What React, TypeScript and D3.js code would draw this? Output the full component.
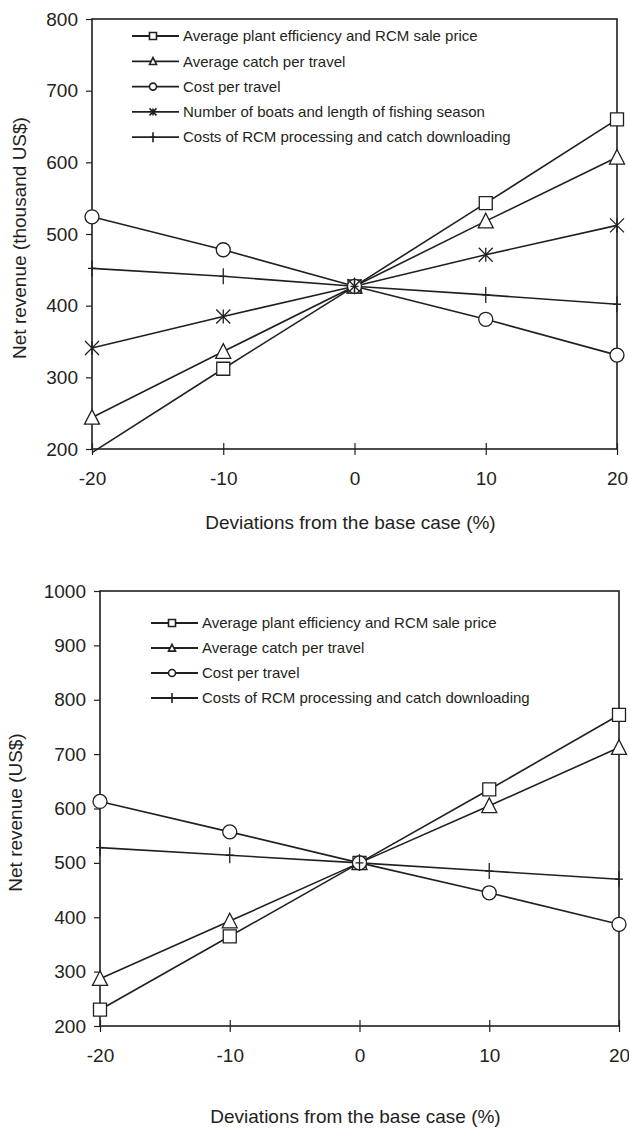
import { useEffect, useRef } from 'react';
import * as d3 from 'd3';

// shared x values (deviation from base case, %)
const deviations = [-20, -10, 0, 10, 20];

// top chart: net revenue in thousand US$
const topPlantEfficiency = [195, 312, 427, 543, 660];
const topCatchPerTravel = [244, 336, 427, 518, 607];
const topCostPerTravel = [524, 478, 427, 381, 331];
const topBoatsSeason = [341, 385, 427, 471, 512];
const topProcessingCosts = [452, 441, 427, 415, 402];
const topYTicks = [200, 300, 400, 500, 600, 700, 800];

// bottom chart: net revenue in US$
const botPlantEfficiency = [230, 365, 500, 635, 772];
const botCatchPerTravel = [287, 393, 500, 605, 712];
const botCostPerTravel = [613, 557, 500, 445, 387];
const botProcessingCosts = [528, 514, 500, 485, 470];
const botYTicks = [200, 300, 400, 500, 600, 700, 800, 900, 1000];

const labelPlant = 'Average plant efficiency and RCM sale price';
const labelCatch = 'Average catch per travel';
const labelCost = 'Cost per travel';
const labelBoats = 'Number of boats and length of fishing season';
const labelProcessing = 'Costs of RCM processing and catch downloading';

const INK = '#231f20';
const FONT = 'Liberation Sans, Arial, Helvetica, sans-serif';

// marker path centred at 0,0
function markerPath(type, s) {
  const h = s / 2;
  switch (type) {
    case 'square':
      return `M${-h},${-h}H${h}V${h}H${-h}Z`;
    case 'triangle':
      return `M0,${-h * 1.05}L${h},${h * 0.9}L${-h},${h * 0.9}Z`;
    case 'circle':
      return `M${h},0A${h},${h} 0 1,1 ${-h},0A${h},${h} 0 1,1 ${h},0Z`;
    case 'asterisk':
      return `M0,${-h}V${h}M${-h},${-h}L${h},${h}M${h},${-h}L${-h},${h}`;
    case 'plus':
      return `M0,${-h}V${h}M${-h * 0.5},0H${h * 0.5}`;
    default:
      return '';
  }
}

function drawChart(svg, cfg) {
  const g = svg.append('g');

  const x = d3.scaleLinear().domain([-20, 20]).range([cfg.left, cfg.right]);
  const y = d3.scaleLinear().domain(cfg.yDomain).range([cfg.bottom, cfg.top]);

  // plot frame
  g.append('rect')
    .attr('x', cfg.left)
    .attr('y', cfg.top)
    .attr('width', cfg.right - cfg.left)
    .attr('height', cfg.bottom - cfg.top)
    .attr('fill', 'none')
    .attr('stroke', INK)
    .attr('stroke-width', 1.6);

  // y axis
  const yAxis = g.append('g')
    .attr('transform', `translate(${cfg.left},0)`)
    .call(d3.axisLeft(y).tickValues(cfg.yTicks).tickFormat(d => String(d)).tickSize(6).tickPadding(8));
  yAxis.select('.domain').remove();
  yAxis.selectAll('line').attr('stroke', INK).attr('stroke-width', 1.2);
  yAxis.selectAll('text')
    .attr('fill', INK)
    .style('font-family', FONT)
    .style('font-size', '19px');

  // x axis, ticks cross the line
  const xAxis = g.append('g')
    .attr('transform', `translate(0,${cfg.bottom})`)
    .call(d3.axisBottom(x).tickValues(deviations).tickFormat(d => String(d))
      .tickSizeInner(6).tickSizeOuter(0).tickPadding(17));
  xAxis.select('.domain').remove();
  xAxis.selectAll('line').attr('y1', -6).attr('stroke', INK).attr('stroke-width', 1.2);
  xAxis.selectAll('text')
    .attr('fill', INK)
    .style('font-family', FONT)
    .style('font-size', '19px');

  // titles
  g.append('text')
    .attr('x', (cfg.left + cfg.right) / 2 - 4)
    .attr('y', cfg.xTitleY)
    .attr('text-anchor', 'middle')
    .attr('fill', INK)
    .style('font-family', FONT)
    .style('font-size', '19px')
    .text('Deviations from the base case (%)');

  g.append('text')
    .attr('transform', `translate(${cfg.yTitleX},${(cfg.top + cfg.bottom) / 2 + 4}) rotate(-90)`)
    .attr('text-anchor', 'middle')
    .attr('dy', '0.35em')
    .attr('fill', INK)
    .style('font-family', FONT)
    .style('font-size', '19px')
    .text(cfg.yTitle);

  const line = d3.line()
    .x((d, i) => x(deviations[i]))
    .y(d => y(d));

  cfg.series.forEach(s => {
    g.append('path')
      .attr('d', line(s.values))
      .attr('fill', 'none')
      .attr('stroke', INK)
      .attr('stroke-width', 1.6);
  });

  // markers, only for points inside the value range
  cfg.series.forEach(s => {
    const pts = s.values.map((v, i) => ({ v, dev: deviations[i] })).filter(p => p.v >= cfg.yDomain[0]);
    g.selectAll(null)
      .data(pts)
      .enter()
      .append('path')
      .attr('transform', p => `translate(${x(p.dev)},${y(p.v)})`)
      .attr('d', markerPath(s.marker, s.size))
      .attr('fill', s.marker === 'asterisk' || s.marker === 'plus' ? 'none' : 'white')
      .attr('stroke', INK)
      .attr('stroke-width', 1.3);
  });

  // legend
  const leg = g.append('g');
  cfg.series.forEach((s, i) => {
    const ly = cfg.legendY + i * cfg.legendStep;
    leg.append('line')
      .attr('x1', cfg.legendX)
      .attr('x2', cfg.legendX + 47)
      .attr('y1', ly)
      .attr('y2', ly)
      .attr('stroke', INK)
      .attr('stroke-width', 1.8);
    leg.append('path')
      .attr('transform', `translate(${cfg.legendX + 21},${ly})`)
      .attr('d', markerPath(s.marker, s.marker === 'plus' ? 10 : 7))
      .attr('fill', s.marker === 'asterisk' || s.marker === 'plus' ? 'none' : 'white')
      .attr('stroke', INK)
      .attr('stroke-width', 1.6);
    leg.append('text')
      .attr('x', cfg.legendX + 51)
      .attr('y', ly)
      .attr('dy', '0.35em')
      .attr('fill', INK)
      .style('font-family', FONT)
      .style('font-size', '15px')
      .text(s.label);
  });
}

const App = () => {
  const svgRef = useRef();

  useEffect(() => {
    const svg = d3.select(svgRef.current);
    svg.selectAll('*').remove();

    drawChart(svg, {
      left: 92, right: 617, top: 19, bottom: 449,
      yDomain: [200, 800], yTicks: topYTicks,
      yTitle: 'Net revenue (thousand US$)', yTitleX: 19, xTitleY: 529,
      legendX: 132, legendY: 36, legendStep: 25.3,
      series: [
        { values: topPlantEfficiency, marker: 'square', size: 13, label: labelPlant },
        { values: topCatchPerTravel, marker: 'triangle', size: 15, label: labelCatch },
        { values: topCostPerTravel, marker: 'circle', size: 14, label: labelCost },
        { values: topBoatsSeason, marker: 'asterisk', size: 14, label: labelBoats },
        { values: topProcessingCosts, marker: 'plus', size: 16, label: labelProcessing },
      ],
    });

    drawChart(svg, {
      left: 100, right: 619, top: 591, bottom: 1026,
      yDomain: [200, 1000], yTicks: botYTicks,
      yTitle: 'Net revenue (US$)', yTitleX: 15, xTitleY: 1123,
      legendX: 151, legendY: 623, legendStep: 25,
      series: [
        { values: botPlantEfficiency, marker: 'square', size: 13, label: labelPlant },
        { values: botCatchPerTravel, marker: 'triangle', size: 15, label: labelCatch },
        { values: botCostPerTravel, marker: 'circle', size: 14, label: labelCost },
        { values: botProcessingCosts, marker: 'plus', size: 16, label: labelProcessing },
      ],
    });
  }, []);

  return (
    <svg
      ref={svgRef}
      width={629}
      height={1128}
      style={{ position: 'absolute', left: 0, top: 0, background: 'white' }}
    />
  );
};

export default App;
